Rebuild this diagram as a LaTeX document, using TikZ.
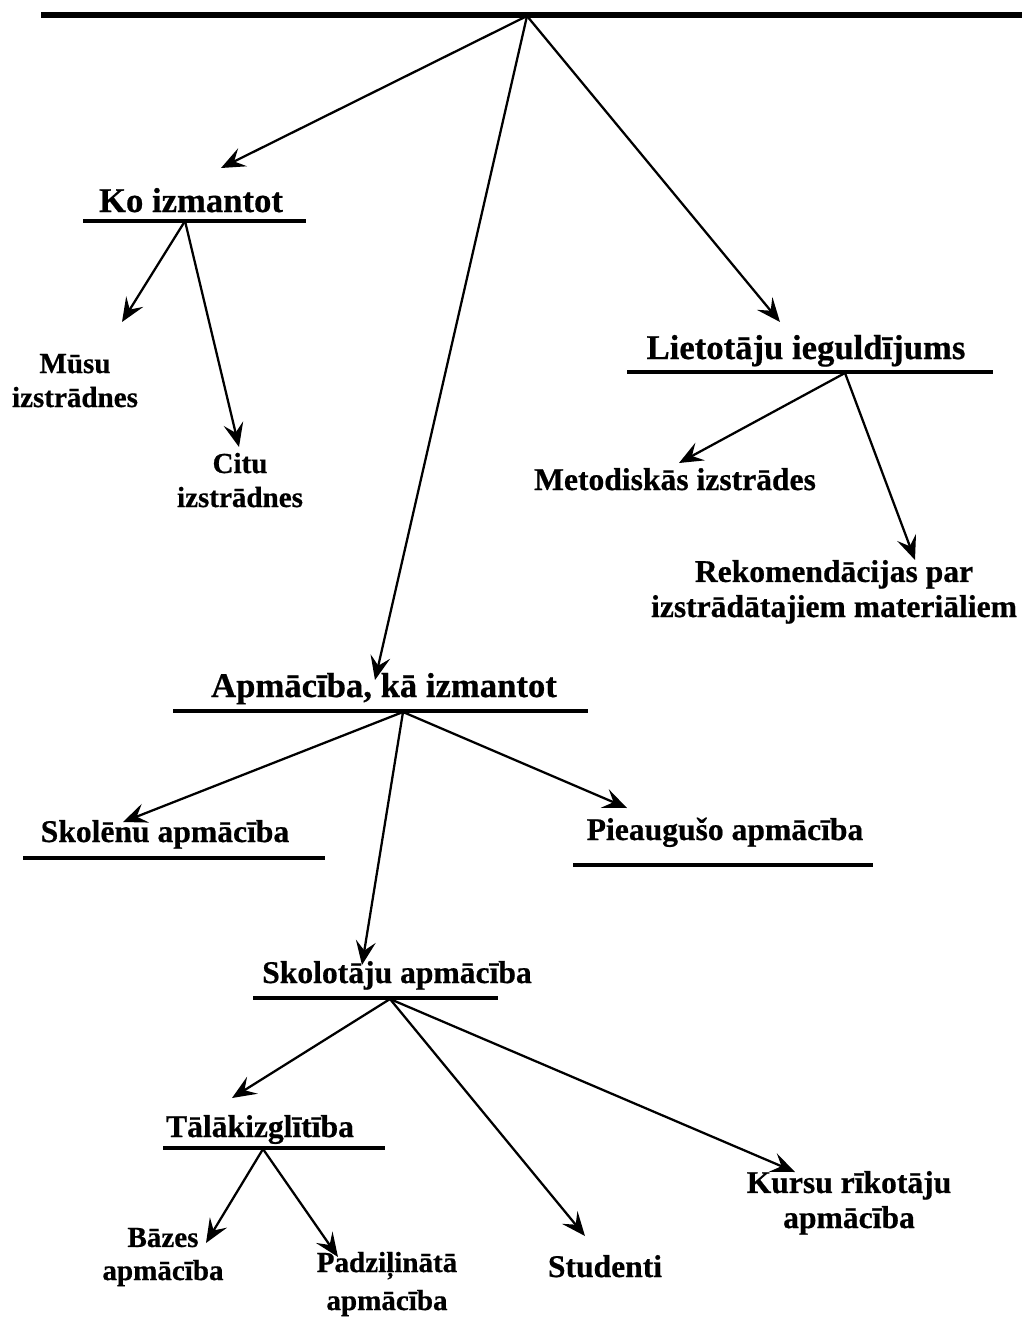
\documentclass[tikz,border=0pt]{standalone}
\usepackage{fontspec}
\setmainfont{Liberation Serif}[BoldFeatures={FakeBold=0.6}]
\usetikzlibrary{arrows.meta}

\begin{document}
\begin{tikzpicture}[x=0.75pt,y=-0.75pt,
  conn/.style={line width=1.7pt, -{Stealth[length=18pt,width=15pt,inset=7pt]}},
  uline/.style={line width=3.2pt},
  topline/.style={line width=3.8pt},
  lbl/.style={inner sep=0pt, anchor=base, align=center,
              font=\bfseries\fontsize{23.7}{26.3}\selectfont},
  head/.style={lbl, font=\bfseries\fontsize{26}{30}\selectfont},
  small/.style={lbl, font=\bfseries\fontsize{21.8}{25.5}\selectfont}]

\useasboundingbox (0,0) rectangle (1022,1320);

% top bar and its branching point
\draw[topline] (41,15) -- (1022,15);
\coordinate (root) at (527,16);

% ---- Ko izmantot ----
\node[head] (ko) at (191,212) {Ko izmantot};
\draw[uline] (83,221) -- (306,221);
\coordinate (koS) at (185,221);
% two-line labels are placed by the baseline of their last line
\node[small] (musu) at (75,407) {Mūsu\\izstrādnes};
\node[small] (citu) at (240,507) {Citu\\izstrādnes};

% ---- Lietotāju ieguldījums ----
\node[head] (liet) at (806,359) {Lietotāju ieguldījums};
\draw[uline] (627,372) -- (993,372);
\coordinate (lietS) at (845,373);
\node[lbl] (metod) at (675,490) {Metodiskās izstrādes};
\node[lbl] (rek) at (834,617) {Rekomendācijas par\\izstrādātajiem materiāliem};

% ---- Apmācība, kā izmantot ----
\node[head] (apm) at (384,697) {Apmācība, kā izmantot};
\draw[uline] (173,711) -- (588,711);
\coordinate (apmS) at (403,712);
\node[lbl] (skolenu) at (165,842) {Skolēnu apmācība};
\draw[uline] (23,858) -- (325,858);
\node[lbl] (pieaug) at (725,840) {Pieaugušo apmācība};
\draw[uline] (573,865) -- (873,865);

% ---- Skolotāju apmācība ----
\node[lbl] (skolot) at (397,983) {Skolotāju apmācība};
\draw[uline] (253,998) -- (498,998);
\coordinate (skolotS) at (390,999);
\node[lbl] (talak) at (260,1137) {Tālākizglītība};
\draw[uline] (163,1148) -- (385,1148);
\coordinate (talakS) at (263,1149);
\node[lbl] (stud) at (605,1277) {Studenti};
\node[lbl] (kursu) at (849,1228) {Kursu rīkotāju\\apmācība};
\node[small, font=\bfseries\fontsize{21.8}{24.8}\selectfont] (bazes) at (163,1280) {Bāzes\\apmācība};
\node[small, font=\bfseries\fontsize{21.8}{28.5}\selectfont] (padz) at (387,1310) {Padziļinātā\\apmācība};

% arrow tips
\coordinate (tKo) at (221,168);
\coordinate (tLiet) at (780,322);
\coordinate (tApm) at (375,680);
\coordinate (tMusu) at (122,322);
\coordinate (tCitu) at (239,447);
\coordinate (tMetod) at (679,463);
\coordinate (tRek) at (915,560);
\coordinate (tSkolenu) at (123,822);
\coordinate (tPieaug) at (627,808);
\coordinate (tSkolot) at (362,965);
\coordinate (tTalak) at (232,1098);
\coordinate (tStud) at (585,1236);
\coordinate (tKursu) at (795,1172);
\coordinate (tBazes) at (206,1243);
\coordinate (tPadz) at (338,1257);

% connectors
\draw[conn] (root) -- (tKo);
\draw[conn] (root) -- (tApm);
\draw[conn] (root) -- (tLiet);
\draw[conn] (koS) -- (tMusu);
\draw[conn] (koS) -- (tCitu);
\draw[conn] (lietS) -- (tMetod);
\draw[conn] (lietS) -- (tRek);
\draw[conn] (apmS) -- (tSkolenu);
\draw[conn] (apmS) -- (tPieaug);
\draw[conn] (apmS) -- (tSkolot);
\draw[conn] (skolotS) -- (tTalak);
\draw[conn] (skolotS) -- (tStud);
\draw[conn] (skolotS) -- (tKursu);
\draw[conn] (talakS) -- (tBazes);
\draw[conn] (talakS) -- (tPadz);
\end{tikzpicture}
\end{document}
